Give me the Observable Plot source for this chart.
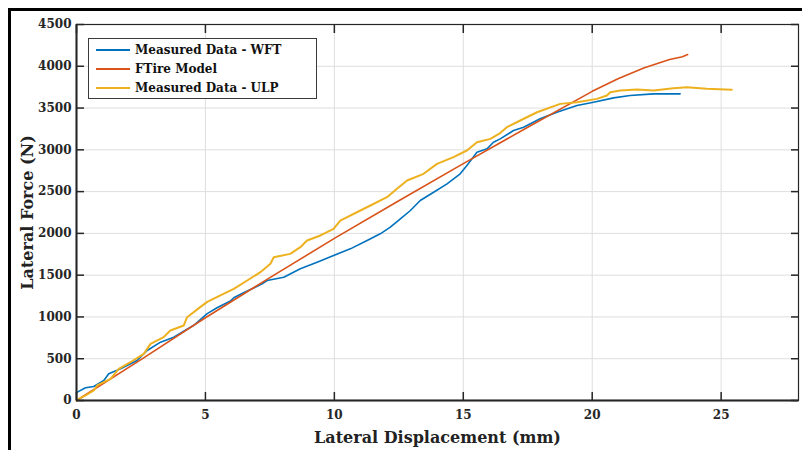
<!DOCTYPE html>
<html>
<head>
<meta charset="utf-8">
<script src="https://cdn.jsdelivr.net/npm/d3@7"></script>
<script src="https://cdn.jsdelivr.net/npm/@observablehq/plot@0.6"></script>
<style>
  html, body { margin: 0; padding: 0; background: #fff; }
  #wrap { position: relative; width: 802px; height: 450px; overflow: hidden; font-family: "DejaVu Serif", serif; }
  #frame { position: absolute; left: 8px; top: 8px; right: -10px; bottom: -10px; border-left: 3px solid #000; border-top: 3px solid #000; pointer-events: none; }
  #legend { position: absolute; left: 88px; top: 38px; width: 227px; height: 59px; border: 1px solid #3a3a3a; background: #fff; font-weight: bold; font-size: 12px; color: #111; }
  .item { position: absolute; left: 7px; display: flex; align-items: center; height: 18px; }
  .item svg { margin-right: 5px; }
</style>
</head>
<body>
<div id="wrap">
  <div id="chart"></div>
  <div id="frame"></div>
  <div id="legend"></div>
</div>
<script>
// Series names and colours
const seriesNames = ["Measured Data - WFT", "FTire Model", "Measured Data - ULP"];
const seriesColors = ["#0072BD", "#D95319", "#EDB120"];

// Axis ticks
const xTicks = [0, 5, 10, 15, 20, 25];
const yTicks = [0, 500, 1000, 1500, 2000, 2500, 3000, 3500, 4000, 4500];

// Measured Data - WFT
const wftX = [0, 0.03, 0.35, 0.67, 1.06, 1.25, 1.71, 2.35, 2.74, 3.26, 3.77, 4.55, 5.07, 5.45, 5.97, 6.1, 6.48, 7.2, 7.39, 8.04, 8.68, 9.33, 9.97, 10.62, 11.27, 11.78, 12.17, 12.56, 12.95, 13.33, 13.85, 14.37, 14.88, 15.14, 15.53, 15.92, 16.17, 16.43, 16.95, 17.34, 17.98, 18.63, 19.41, 20.05, 20.83, 21.47, 22.38, 23.41];
const wftF = [90, 100, 152, 168, 239, 319, 379, 479, 598, 698, 758, 900, 1040, 1110, 1190, 1230, 1290, 1396, 1436, 1476, 1576, 1655, 1735, 1815, 1915, 1995, 2074, 2174, 2274, 2394, 2493, 2593, 2713, 2812, 2972, 3012, 3091, 3131, 3231, 3271, 3371, 3450, 3530, 3570, 3622, 3650, 3670, 3670];

// FTire Model
const ftireX = [0, 2.5, 5, 7.5, 10, 12.5, 15, 17.5, 20, 21, 22, 23, 23.5, 23.7];
const ftireF = [0, 490, 990, 1470, 1940, 2390, 2835, 3270, 3700, 3850, 3980, 4080, 4115, 4140];

// Measured Data - ULP
const ulpX = [0, 0.1, 0.35, 0.67, 0.8, 1.32, 1.64, 2.09, 2.61, 2.87, 3.38, 3.64, 4.16, 4.29, 4.81, 5.07, 5.58, 6.1, 6.62, 7.13, 7.52, 7.65, 8.29, 8.68, 8.94, 9.46, 9.97, 10.23, 11.01, 11.4, 12.04, 12.43, 12.82, 13.46, 13.98, 14.62, 15.14, 15.53, 16.05, 16.43, 16.69, 17.21, 17.86, 18.76, 19.41, 20.18, 20.57, 20.7, 21.09, 21.73, 22.38, 23.15, 23.67, 24.44, 25.41];
const ulpF = [0, 20, 60, 120, 180, 260, 379, 458, 558, 678, 758, 838, 898, 997, 1120, 1180, 1257, 1336, 1436, 1536, 1636, 1715, 1755, 1835, 1915, 1975, 2054, 2154, 2274, 2334, 2433, 2533, 2633, 2713, 2832, 2912, 2992, 3091, 3131, 3200, 3271, 3351, 3450, 3550, 3570, 3610, 3650, 3690, 3710, 3722, 3710, 3738, 3750, 3730, 3718];

const toRows = (xs, fs, s) => xs.map((x, i) => ({x, f: fs[i], s}));
const rows = [
  ...toRows(wftX, wftF, seriesNames[0]),
  ...toRows(ftireX, ftireF, seriesNames[1]),
  ...toRows(ulpX, ulpF, seriesNames[2])
];

const axisColor = "#262626";
const chart = Plot.plot({
  width: 802,
  height: 450,
  marginLeft: 76,
  marginRight: 4,
  marginTop: 24,
  marginBottom: 50,
  style: {fontFamily: "DejaVu Serif", fontWeight: "bold", fontSize: "12px", color: axisColor, background: "transparent"},
  x: {domain: [0, 28], ticks: xTicks},
  y: {domain: [0, 4500], ticks: yTicks},
  color: {domain: seriesNames, range: seriesColors},
  marks: [
    Plot.gridX(xTicks, {stroke: "#dedede", strokeOpacity: 1}),
    Plot.gridY(yTicks, {stroke: "#dedede", strokeOpacity: 1}),
    Plot.line(rows.filter(d => d.s === seriesNames[0]), {x: "x", y: "f", stroke: "s", strokeWidth: 1.6}),
    Plot.line(rows.filter(d => d.s === seriesNames[1]), {x: "x", y: "f", stroke: "s", strokeWidth: 1.6}),
    Plot.line(rows.filter(d => d.s === seriesNames[2]), {x: "x", y: "f", stroke: "s", strokeWidth: 2}),
    Plot.frame({stroke: axisColor, strokeWidth: 1.2}),
    Plot.ruleY([0], {stroke: axisColor, strokeWidth: 2}),
    Plot.ruleX([0], {stroke: axisColor, strokeWidth: 2}),
    // inward ticks
    Plot.axisX(xTicks, {anchor: "bottom", tickSize: 8, dy: -8, tickFormat: () => "", label: null, stroke: axisColor, strokeWidth: 1.5}),
    Plot.axisX(xTicks, {anchor: "top", tickSize: 8, dy: 8, tickFormat: () => "", label: null, stroke: axisColor, strokeWidth: 1.5}),
    Plot.axisY(yTicks, {anchor: "left", tickSize: 8, dx: 8, tickFormat: () => "", label: null, stroke: axisColor, strokeWidth: 1.5}),
    Plot.axisY(yTicks, {anchor: "right", tickSize: 8, dx: -8, tickFormat: () => "", label: null, stroke: axisColor, strokeWidth: 1.5}),
    // tick labels
    Plot.axisX(xTicks, {anchor: "bottom", tickSize: 0, tickPadding: 10, label: null, fill: axisColor, tickFormat: d3.format("d")}),
    Plot.axisY(yTicks, {anchor: "left", tickSize: 0, tickPadding: 5, label: null, fill: axisColor, tickFormat: d3.format("d")}),
    // axis titles
    Plot.text(["Lateral Displacement (mm)"], {frameAnchor: "bottom", textAnchor: "middle", lineAnchor: "middle", dy: 37, text: d => d, fontSize: 16, fontWeight: "bold", fill: "#222"}),
    Plot.text(["Lateral Force (N)"], {frameAnchor: "left", textAnchor: "middle", lineAnchor: "middle", dx: -49, rotate: -90, text: d => d, fontSize: 16, fontWeight: "bold", fill: "#222"})
  ]
});
document.getElementById("chart").appendChild(chart);

// legend
const legend = document.getElementById("legend");
seriesNames.forEach((name, i) => {
  const div = document.createElement("div");
  div.className = "item";
  div.style.top = (2 + i * 19) + "px";
  div.innerHTML = `<svg width="34" height="4"><line x1="0" y1="2" x2="34" y2="2" stroke="${seriesColors[i]}" stroke-width="2"/></svg><span>${name}</span>`;
  legend.appendChild(div);
});
</script>
</body>
</html>
